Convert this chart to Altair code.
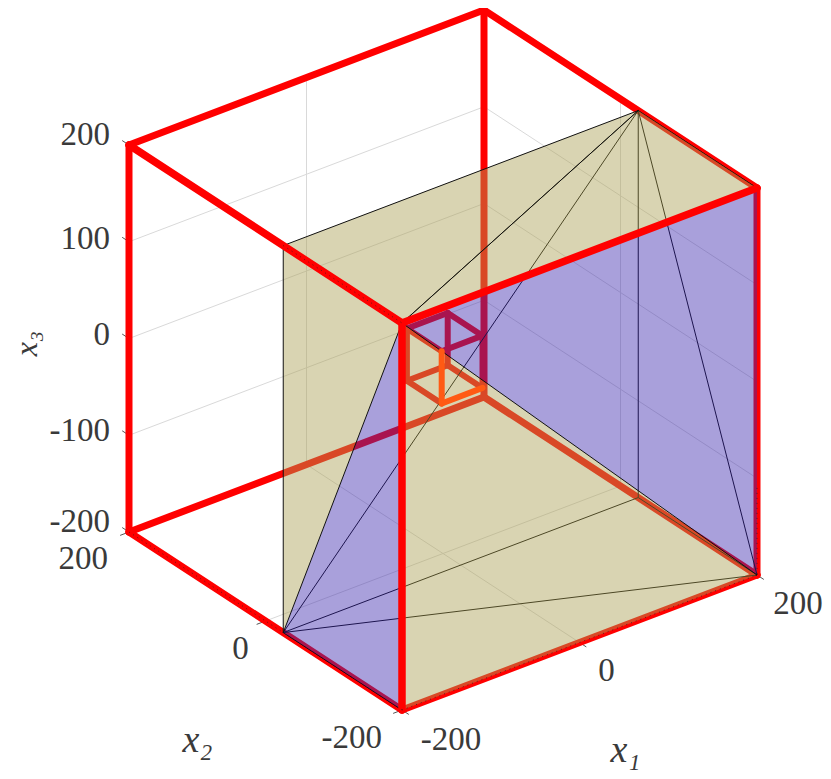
import altair as alt
import pandas as pd

# ---- values: cube corners and inner planes in data units ----
L = 200
PLANE_X2 = -26
INNER_X1 = [-23, 23]
INNER_X2 = [-28, 23]
INNER_X3 = [-24, 30]
X1_TICKS = [-200, 0, 200]
X2_TICKS = [-200, 0, 200]
X3_TICKS = [-200, -100, 0, 100, 200]
X1_LABELS = ["-200", "0", "200"]
X2_LABELS = ["-200", "0", "200"]
X3_LABELS = ["-200", "-100", "0", "100", "200"]
TITLES = ["x\u2081", "x\u2082", "x\u2083"]

# ---- view (orthographic projection of the 3-D axes onto the page) ----
W, H = 815, 763
O = (443, 360)
E1 = (0.8875, -0.3375)
E2 = (-0.6825, -0.445)
E3 = (0.0, -0.9675)
RED, TAN, BLUE = "#ff0000", "#aa9f54", "#402cb0"
ALPHA = 0.45


def proj(p):
    a, b, c = p
    return (O[0] + a * E1[0] + b * E2[0] + c * E3[0],
            O[1] + a * E1[1] + b * E2[1] + c * E3[1])


XS = alt.Scale(domain=[8, 8 + W], nice=False, zero=False)
YS = alt.Scale(domain=[8 + H, 8], nice=False, zero=False)


def segs(pairs, **mark):
    rows = []
    for s, e in pairs:
        (x, y), (x2, y2) = proj(s), proj(e)
        rows.append(dict(x=x, y=y, x2=x2, y2=y2))
    return alt.Chart(pd.DataFrame(rows)).mark_rule(**mark).encode(
        x=alt.X("x:Q", scale=XS, axis=None),
        y=alt.Y("y:Q", scale=YS, axis=None),
        x2="x2:Q", y2="y2:Q")


def poly(verts, color):
    rows = [dict(x=proj(v)[0], y=proj(v)[1], i=i) for i, v in enumerate(verts + verts[:1])]
    return alt.Chart(pd.DataFrame(rows)).mark_line(
        fill=color, fillOpacity=ALPHA, strokeWidth=0, stroke=None, interpolate="linear").encode(
        x=alt.X("x:Q", scale=XS, axis=None),
        y=alt.Y("y:Q", scale=YS, axis=None),
        order="i:Q")


def text(label, p, dx=0, dy=0, align="center", size=33, **kw):
    x, y = proj(p)
    return alt.Chart(pd.DataFrame([dict(x=x, y=y, t=label)])).mark_text(
        dx=dx, dy=dy, align=align, baseline="middle", font="Liberation Serif",
        fontSize=size, color="#3a3a3a", **kw).encode(
        x=alt.X("x:Q", scale=XS, axis=None),
        y=alt.Y("y:Q", scale=YS, axis=None),
        text="t:N")


def c(a, b, d):
    return (a * L, b * L, d * L)


lll, hll, lhl, hhl = c(-1, -1, -1), c(1, -1, -1), c(-1, 1, -1), c(1, 1, -1)
llh, hlh, lhh, hhh = c(-1, -1, 1), c(1, -1, 1), c(-1, 1, 1), c(1, 1, 1)
p_ll, p_hl = (-L, PLANE_X2, -L), (L, PLANE_X2, -L)
p_lh, p_hh = (-L, PLANE_X2, L), (L, PLANE_X2, L)

grid = []
for v in X3_TICKS:
    grid += [((-L, L, v), (L, L, v)), ((L, L, v), (L, -L, v))]
for v in X1_TICKS:
    grid += [((v, L, -L), (v, L, L)), ((v, L, -L), (v, -L, -L))]
for v in X2_TICKS:
    grid += [((L, v, -L), (L, v, L)), ((-L, v, -L), (L, v, -L))]

ticks = []
for v in X3_TICKS:
    ticks.append(((-L, L, v), (-L, L + 10, v)))
for v in X2_TICKS:
    ticks.append(((-L, v, -L), (-L - 10, v, -L)))
for v in X1_TICKS:
    ticks.append(((v, -L, -L), (v, -L - 10, -L)))

red_under = [(lhl, hhl), (hhl, hll), (hhl, hhh), (lhh, hhh), (hhh, hlh), (lhh, lhl),
             (lhl, lll), (lll, hll), (hll, hlh)]
red_top = [(lhh, llh), (llh, hlh), (llh, lll)]

a0, a1 = INNER_X1
b0, b1 = INNER_X2
z0, z1 = INNER_X3
A, B, C, D = (a0, b1, z1), (a1, b1, z1), (a1, b0, z1), (a0, b0, z1)
A_, B_, C_, D_ = (a0, b1, z0), (a1, b1, z0), (a1, b0, z0), (a0, b0, z0)
inner_under = [(A, B), (B, C), (C, D), (D, A), (A, A_), (B, B_), (C, C_),
               (A_, B_), (B_, C_), (D_, A_)]
inner_top = [(D, D_), (D_, C_)]

thin_under = [(p_hh, p_ll), (p_hh, p_hl), (p_hh, hll), (p_ll, p_hl), (p_ll, hll),
              (p_hl, hll), (p_hh, llh), (p_ll, lll), (p_hh, hlh)]
thin_top = [(p_lh, p_hh), (p_lh, p_ll), (p_ll, llh), (llh, hll), (llh, p_hh)]
dotted = [(lhl, lll), (lll, hll), (p_lh, llh), ((L, -L, -110), hll)]

layers = [
    segs(grid, color="#d9d9d9", strokeWidth=1),
    segs(ticks, color="#555555", strokeWidth=1),
    segs(red_under, color=RED, strokeWidth=7, strokeCap="round"),
    segs(inner_under, color=RED, strokeWidth=6, strokeCap="round"),
    segs(thin_under, color="#000000", strokeWidth=1),
    poly([p_lh, p_hh, hlh, llh, p_ll], TAN),
    poly([llh, hll, lll], TAN),
    poly([llh, hlh, hll], BLUE),
    poly([llh, p_ll, lll], BLUE),
    segs(thin_top, color="#111111", strokeWidth=1),
    segs(inner_top, color="#ff5a14", strokeWidth=6, strokeCap="round"),
    segs(red_top, color=RED, strokeWidth=7.5, strokeCap="round"),
    segs(dotted, color="#222222", strokeWidth=1, strokeDash=[1, 4], opacity=0.7),
]

x3_offsets = [-10, -4, -4, -3, -10]
for v, t, dy in zip(X3_TICKS, X3_LABELS, x3_offsets):
    layers.append(text(t, (-L, L, v), dx=-19, dy=dy, align="right"))
for t, v, dx, dy, al in zip(X2_LABELS, X2_TICKS, [-20, -25, -21], [28, 28, 27],
                            ["right", "center", "right"]):
    layers.append(text(t, (-L, v, -L), dx=dx, dy=dy, align=al))
for t, v, dx, dy in zip(X1_LABELS, X1_TICKS, [49, 27, 41], [30, 28, 29]):
    layers.append(text(t, (v, -L, -L), dx=dx, dy=dy))
layers.append(text(TITLES[0], (0, -L, -L), dx=46, dy=108, size=38, fontStyle="italic"))
layers.append(text(TITLES[1], (-L, 0, -L), dx=-68, dy=120, size=38, fontStyle="italic"))
layers.append(text(TITLES[2], (-L, L, 0), dx=-5, dy=-102, size=32, angle=270, fontStyle="italic"))

chart = alt.layer(*layers).properties(
    width=W, height=H, padding=0, autosize=alt.AutoSizeParams(type="none")
).configure_view(stroke=None)

chart.save("out.html", embed_options={"renderer": "svg", "actions": False})
